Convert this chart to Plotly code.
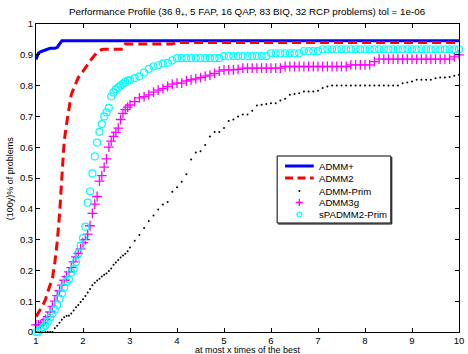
import plotly.graph_objects as go

# ---------------- data ----------------
series_names = ["ADMM+", "ADMM2", "ADMM-Prim", "ADMM3g", "sPADMM2-Prim"]

# line series: own knots
x_admm_plus = [1.00, 1.05, 1.10, 1.15, 1.20, 1.25, 1.30, 1.35, 1.40, 1.45, 1.50, 1.55, 10.0]
y_admm_plus = [0.885, 0.905, 0.910, 0.913, 0.916, 0.919, 0.921, 0.921, 0.921, 0.924, 0.935, 0.946, 0.946]

x_admm2 = [1.00, 1.05, 1.10, 1.15, 1.20, 1.25, 1.30, 1.35, 1.40, 1.45, 1.50, 1.55, 1.60, 1.65,
           1.70, 1.75, 1.80, 1.85, 1.90, 1.95, 2.00, 2.05, 2.10, 2.15, 2.20, 2.25, 2.30, 2.35,
           2.40, 2.45, 2.85, 2.90, 3.90, 4.00, 10.0]
y_admm2 = [0.050, 0.065, 0.075, 0.088, 0.105, 0.130, 0.150, 0.175, 0.225, 0.290, 0.380, 0.500,
           0.620, 0.675, 0.722, 0.770, 0.790, 0.810, 0.826, 0.836, 0.846, 0.855, 0.868, 0.880,
           0.890, 0.900, 0.908, 0.913, 0.917, 0.918, 0.918, 0.935, 0.935, 0.940, 0.940]

# marker series: shared sample grid
x_grid = [1.00, 1.05, 1.10, 1.15, 1.20, 1.25, 1.30, 1.35, 1.40, 1.45,
          1.50, 1.55, 1.60, 1.65, 1.70, 1.75, 1.80, 1.85, 1.90, 1.95,
          2.00, 2.05, 2.10, 2.15, 2.20, 2.25, 2.30, 2.35, 2.40, 2.45,
          2.50, 2.55, 2.60, 2.65, 2.70, 2.75, 2.80, 2.85, 2.90, 2.95,
          3.00,
          3.1, 3.2, 3.3, 3.4, 3.5, 3.6, 3.7, 3.8, 3.9, 4.0,
          4.1, 4.2, 4.3, 4.4, 4.5, 4.6, 4.7, 4.8, 4.9, 5.0,
          5.1, 5.2, 5.3, 5.4, 5.5, 5.6, 5.7, 5.8, 5.9, 6.0,
          6.1, 6.2, 6.3, 6.4, 6.5, 6.6, 6.7, 6.8, 6.9, 7.0,
          7.1, 7.2, 7.3, 7.4, 7.5, 7.6, 7.7, 7.8, 7.9, 8.0,
          8.1, 8.2, 8.3, 8.4, 8.5, 8.6, 8.7, 8.8, 8.9, 9.0,
          9.1, 9.2, 9.3, 9.4, 9.5, 9.6, 9.7, 9.8, 9.9, 10.0]

y_admm_prim = [0.000, 0.000, 0.000, 0.000, 0.000, 0.000, 0.000, 0.000, 0.012, 0.020,
               0.030, 0.040, 0.048, 0.053, 0.053, 0.060, 0.070, 0.080, 0.088, 0.097,
               0.106, 0.117, 0.128, 0.140, 0.152, 0.160, 0.167, 0.173, 0.180, 0.186,
               0.190, 0.198, 0.206, 0.218, 0.226, 0.234, 0.242, 0.248, 0.254, 0.262,
               0.274,
               0.296, 0.315, 0.338, 0.360, 0.378, 0.398, 0.414, 0.422, 0.455, 0.470,
               0.488, 0.512, 0.560, 0.583, 0.587, 0.607, 0.635, 0.649, 0.649, 0.662,
               0.685, 0.690, 0.700, 0.706, 0.706, 0.718, 0.735, 0.738, 0.740, 0.743,
               0.743, 0.752, 0.757, 0.770, 0.773, 0.775, 0.781, 0.781, 0.781, 0.783,
               0.792, 0.797, 0.800, 0.800, 0.800, 0.800, 0.800, 0.800, 0.800, 0.800,
               0.800, 0.800, 0.800, 0.800, 0.800, 0.800, 0.800, 0.808, 0.810, 0.813,
               0.819, 0.819, 0.819, 0.819, 0.824, 0.826, 0.826, 0.828, 0.832, 0.835]

y_admm3g = [0.023, 0.023, 0.023, 0.030, 0.040, 0.050, 0.065, 0.083, 0.100, 0.118,
            0.134, 0.152, 0.168, 0.180, 0.195, 0.209, 0.228, 0.244, 0.255, 0.270,
            0.290, 0.300, 0.318, 0.345, 0.385, 0.415, 0.440, 0.490, 0.508, 0.535,
            0.562, 0.600, 0.620, 0.635, 0.648, 0.662, 0.690, 0.710, 0.722, 0.730,
            0.737,
            0.748, 0.760, 0.764, 0.770, 0.779, 0.785, 0.790, 0.797, 0.805, 0.808,
            0.808, 0.815, 0.819, 0.822, 0.826, 0.831, 0.834, 0.840, 0.847, 0.851,
            0.851, 0.851, 0.853, 0.857, 0.857, 0.857, 0.857, 0.857, 0.857, 0.857,
            0.857, 0.857, 0.862, 0.862, 0.862, 0.862, 0.862, 0.862, 0.862, 0.862,
            0.862, 0.862, 0.862, 0.862, 0.862, 0.862, 0.867, 0.867, 0.867, 0.867,
            0.867, 0.878, 0.886, 0.886, 0.886, 0.886, 0.886, 0.886, 0.886, 0.886,
            0.886, 0.886, 0.886, 0.886, 0.886, 0.886, 0.886, 0.886, 0.893, 0.900]

y_spadmm2 = [0.000, 0.000, 0.008, 0.015, 0.022, 0.034, 0.047, 0.060, 0.072, 0.088,
             0.108, 0.126, 0.145, 0.163, 0.171, 0.193, 0.204, 0.228, 0.255, 0.280,
             0.305, 0.342, 0.420, 0.457, 0.515, 0.570, 0.615, 0.650, 0.675, 0.700,
             0.713, 0.728, 0.765, 0.778, 0.788, 0.794, 0.800, 0.806, 0.812, 0.816,
             0.818,
             0.824, 0.830, 0.842, 0.854, 0.862, 0.866, 0.872, 0.874, 0.882, 0.889,
             0.889, 0.889, 0.889, 0.889, 0.889, 0.889, 0.889, 0.889, 0.889, 0.896,
             0.896, 0.896, 0.896, 0.896, 0.896, 0.896, 0.896, 0.896, 0.896, 0.905,
             0.905, 0.905, 0.905, 0.905, 0.905, 0.905, 0.912, 0.912, 0.912, 0.912,
             0.918, 0.918, 0.918, 0.918, 0.918, 0.918, 0.918, 0.918, 0.918, 0.918,
             0.918, 0.918, 0.918, 0.918, 0.918, 0.918, 0.918, 0.918, 0.918, 0.918,
             0.918, 0.918, 0.918, 0.918, 0.918, 0.918, 0.918, 0.918, 0.918, 0.918]

x_ticks = [1, 2, 3, 4, 5, 6, 7, 8, 9, 10]
y_ticks = [0, 0.1, 0.2, 0.3, 0.4, 0.5, 0.6, 0.7, 0.8, 0.9, 1]
y_tick_labels = ["0", "0.1", "0.2", "0.3", "0.4", "0.5", "0.6", "0.7", "0.8", "0.9", "1"]

title_text = "Performance Profile (36 θ<sub>+</sub>, 5 FAP, 16 QAP, 83 BIQ, 32 RCP problems) tol = 1e-06"
x_title = "at most x times of the best"
y_title = "(100y)% of problems"

# ---------------- styling ----------------
FONT = "Liberation Sans, Arial, Helvetica, sans-serif"
W, H = 468, 354
ML, MR, MT, MB = 36, 4, 24, 22
pw = W - ML - MR
ph = H - MT - MB

fig = go.Figure()

fig.add_trace(go.Scatter(x=x_admm_plus, y=y_admm_plus, mode="lines",
                         line=dict(color="#0000FF", width=3), name=series_names[0]))
fig.add_trace(go.Scatter(x=x_admm2, y=y_admm2, mode="lines",
                         line=dict(color="#FF0000", width=3, dash="9px,5px"), name=series_names[1]))
fig.add_trace(go.Scatter(x=x_grid, y=y_admm_prim, mode="markers", cliponaxis=False,
                         marker=dict(color="black", size=2, symbol="circle"), name=series_names[2]))
fig.add_trace(go.Scatter(x=x_grid, y=y_admm3g, mode="markers", cliponaxis=False,
                         marker=dict(color="#FF00FF", size=7, symbol="cross-thin",
                                     line=dict(color="#FF00FF", width=1.3)), name=series_names[3]))
fig.add_trace(go.Scatter(x=x_grid, y=y_spadmm2, mode="markers", cliponaxis=False,
                         marker=dict(color="#00FFFF", size=7, symbol="circle-open",
                                     line=dict(color="#00FFFF", width=1.2)), name=series_names[4]))

# ---------------- manual legend in pixel-coordinate overlay axes ----------------
leg_rows = [166, 178, 191, 202.5, 214.5]
leg_x0, leg_x1, leg_mid, leg_text_x = 288, 317, 302.5, 320
fig.add_trace(go.Scatter(x=[leg_x0, leg_x1], y=[leg_rows[0]] * 2, mode="lines", xaxis="x2", yaxis="y2",
                         line=dict(color="#0000FF", width=3), showlegend=False, hoverinfo="skip"))
fig.add_trace(go.Scatter(x=[leg_x0, leg_x1], y=[leg_rows[1]] * 2, mode="lines", xaxis="x2", yaxis="y2",
                         line=dict(color="#FF0000", width=3, dash="8px,4.5px"), showlegend=False, hoverinfo="skip"))
fig.add_trace(go.Scatter(x=[leg_mid], y=[leg_rows[2]], mode="markers", xaxis="x2", yaxis="y2",
                         marker=dict(color="black", size=2), showlegend=False, hoverinfo="skip"))
fig.add_trace(go.Scatter(x=[leg_mid], y=[leg_rows[3]], mode="markers", xaxis="x2", yaxis="y2",
                         marker=dict(color="#FF00FF", size=5, symbol="cross-thin",
                                     line=dict(color="#FF00FF", width=1.3)), showlegend=False, hoverinfo="skip"))
fig.add_trace(go.Scatter(x=[leg_mid], y=[leg_rows[4]], mode="markers", xaxis="x2", yaxis="y2",
                         marker=dict(color="#00FFFF", size=5, symbol="circle-open",
                                     line=dict(color="#00FFFF", width=1.2)), showlegend=False, hoverinfo="skip"))

annotations = []
for name, yy in zip(series_names, leg_rows):
    annotations.append(dict(x=leg_text_x, y=yy, xref="x2", yref="y2", text=name, showarrow=False,
                            xanchor="left", yanchor="middle", font=dict(family=FONT, size=9.6, color="black")))

annotations.append(dict(x=(10 - ML) / pw, y=0.5, xref="paper", yref="paper", text=y_title,
                        textangle=-90, showarrow=False, xanchor="center", yanchor="middle",
                        font=dict(family=FONT, size=9, color="black")))
annotations.append(dict(x=0.5, y=((H - MB) - 350) / ph, xref="paper", yref="paper", text=x_title,
                        showarrow=False, xanchor="center", yanchor="middle",
                        font=dict(family=FONT, size=9, color="black")))
annotations.append(dict(x=0.5, y=((H - MB) - 12) / ph, xref="paper", yref="paper", text=title_text,
                        showarrow=False, xanchor="center", yanchor="middle",
                        font=dict(family=FONT, size=9.8, color="black")))

axis_common = dict(showline=True, linecolor="black", linewidth=1, mirror="ticks",
                   ticks="inside", ticklen=4, tickcolor="black", tickwidth=1,
                   showgrid=False, zeroline=False, ticklabeloverflow="allow",
                   tickfont=dict(family=FONT, size=9.5, color="black"))

fig.update_layout(
    width=W, height=H,
    margin=dict(l=ML, r=MR, t=MT, b=MB, pad=0),
    paper_bgcolor="white", plot_bgcolor="white",
    showlegend=False,
    xaxis=dict(range=[1, 10], tickvals=x_ticks, ticktext=[str(v) for v in x_ticks], **axis_common),
    yaxis=dict(range=[0, 1], tickvals=y_ticks, ticktext=y_tick_labels, **axis_common),
    xaxis2=dict(overlaying="x", range=[ML, W - MR], visible=False, anchor="y2"),
    yaxis2=dict(overlaying="y", range=[H - MB, MT], visible=False, anchor="x2"),
    shapes=[
        dict(type="rect", xref="x2", yref="y2", x0=280, x1=395, y0=156, y1=223,
             line=dict(color="black", width=1), fillcolor="white", layer="below"),
        dict(type="line", xref="x2", yref="y2", x0=281, x1=396, y0=224, y1=224,
             line=dict(color="black", width=1), layer="below"),
        dict(type="line", xref="x2", yref="y2", x0=396, x1=396, y0=157, y1=224,
             line=dict(color="black", width=1), layer="below"),
    ],
    annotations=annotations,
)

fig.write_html("out.html", config={"displayModeBar": False},
               post_script="document.body.style.margin='0';document.body.style.padding='0';"
                           "document.body.style.overflow='hidden';")
